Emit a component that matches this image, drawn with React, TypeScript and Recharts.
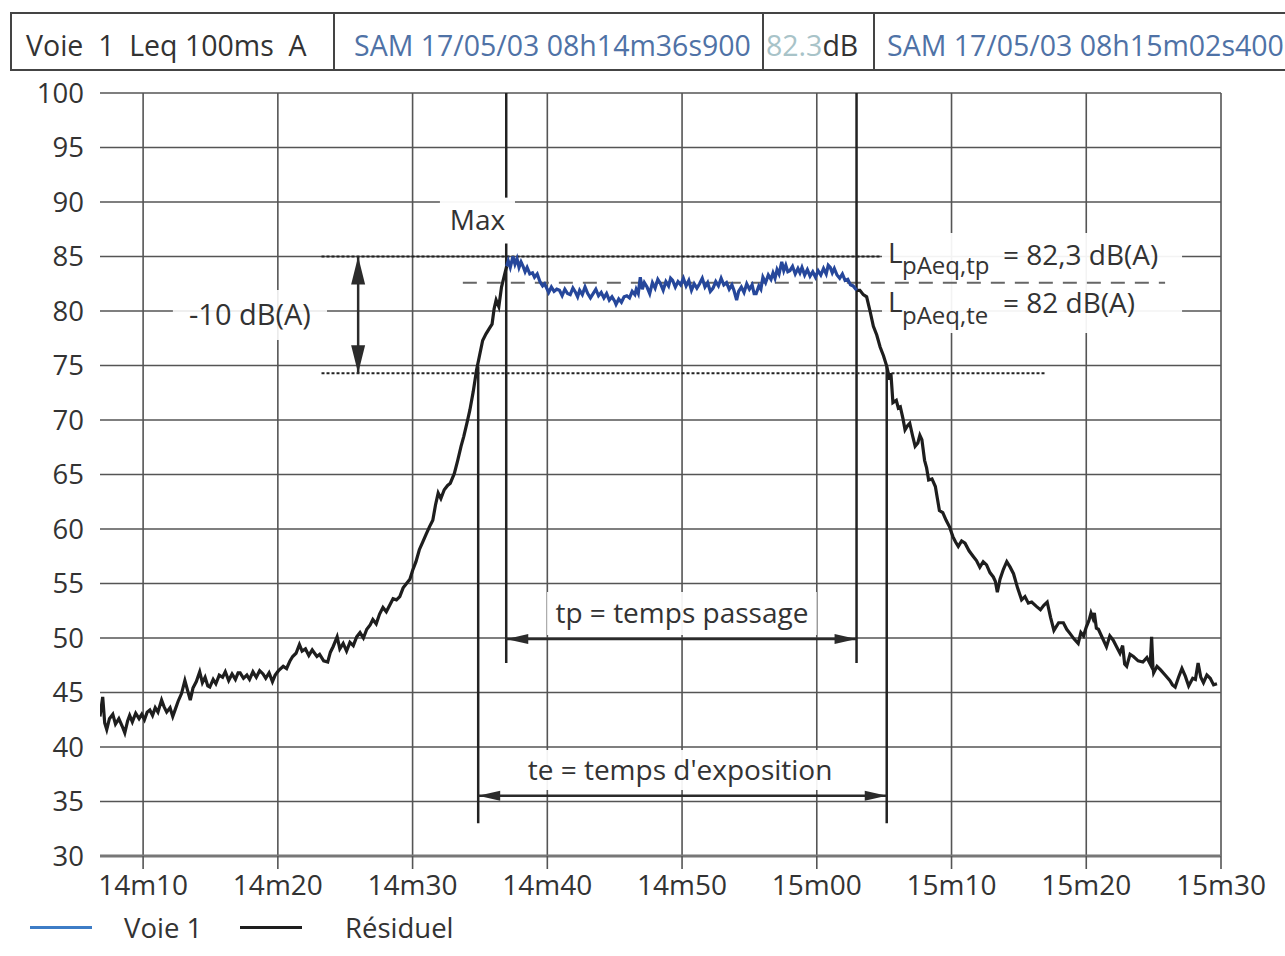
import React from 'react';
import { LineChart, Line, XAxis, YAxis, CartesianGrid, ReferenceLine, ReferenceArea } from 'recharts';

const FONT = '"Open Sans", "Noto Sans", "DejaVu Sans", sans-serif';

// time axis = seconds after 08h14m00
const xTicks = [10, 20, 30, 40, 50, 60, 70, 80, 90];
const xTickLabels = ['14m10', '14m20', '14m30', '14m40', '14m50', '15m00', '15m10', '15m20', '15m30'];
const yTicks = [30, 35, 40, 45, 50, 55, 60, 65, 70, 75, 80, 85, 90, 95, 100];

// Résiduel, montée (avant le passage)
const monteeTemps = [
  6.8, 7.0, 7.15, 7.3, 7.5, 7.75, 7.95, 8.2, 8.45, 8.64, 8.85, 9.0, 9.2, 9.45, 9.7, 9.9,
  10.1, 10.3, 10.5, 10.7, 10.9, 11.1, 11.37, 11.55, 11.75, 12.0, 12.2, 12.4, 12.6, 12.85,
  13.1, 13.3, 13.5, 13.7, 13.95, 14.2, 14.4, 14.6, 14.8, 14.95, 15.2, 15.4, 15.65, 15.9,
  16.1, 16.35, 16.6, 16.85, 17.05, 17.2, 17.45, 17.7, 17.9, 18.15, 18.4, 18.65, 18.9,
  19.1, 19.35, 19.6, 19.8, 20.05, 20.4, 20.65, 20.9, 21.1, 21.35, 21.6, 21.8, 22.05, 22.3,
  22.55, 22.9, 23.1, 23.4, 23.7, 23.9, 24.1, 24.4, 24.6, 24.85, 25.1, 25.35, 25.6, 25.85,
  26.1, 26.35, 26.6, 26.85, 27.05, 27.3, 27.55, 27.8, 28.05, 28.3, 28.55, 28.8, 29.05,
  29.3, 29.55, 29.8, 30.0, 30.25, 30.5, 30.75, 31.0, 31.25, 31.5, 31.7, 31.9, 32.1, 32.35,
  32.6, 32.8, 33.1, 33.35, 33.6, 33.8, 34.05, 34.25, 34.5, 34.75, 34.95, 35.2, 35.45, 35.7,
  35.9, 36.05, 36.2, 36.4, 36.6, 36.8, 36.98,
];
const monteeNiveaux = [
  42.8, 44.6, 42.2, 41.6, 42.6, 43.0, 42.1, 42.6, 41.9, 41.3, 42.4, 42.9, 42.3, 43.1, 42.6, 43.0,
  42.5, 43.2, 43.4, 42.9, 43.6, 43.2, 44.3, 43.7, 43.2, 43.6, 42.8, 43.5, 44.2, 44.9,
  46.1, 45.2, 44.3, 45.4, 46.0, 46.9, 45.9, 46.4, 45.6, 45.5, 46.2, 45.8, 46.6, 46.4,
  46.9, 46.1, 46.7, 46.2, 46.8, 46.8, 46.3, 46.6, 46.2, 46.9, 46.4, 47.0, 46.7,
  46.3, 46.8, 46.0, 46.6, 47.0, 47.4, 47.2, 47.9, 48.3, 48.6, 49.4, 48.8, 49.0, 48.4,
  48.9, 48.3, 48.5, 47.9, 47.8, 48.7, 49.2, 50.1, 49.0, 49.5, 48.8, 49.6, 49.3, 50.1,
  50.5, 50.0, 50.8, 51.2, 51.7, 51.3, 52.2, 52.8, 52.4, 53.0, 53.6, 53.5, 53.8,
  54.6, 55.0, 55.4, 56.2, 57.0, 58.1, 58.8, 59.5, 60.2, 60.8, 62.2, 63.3, 62.8, 63.6,
  64.0, 64.2, 65.1, 66.3, 67.6, 68.5, 69.8, 70.9, 72.6, 74.6, 75.8, 77.3, 77.9, 78.4,
  78.8, 80.2, 81.0, 80.4, 82.2, 83.2, 84.1,
];

// Voie 1 (passage)
const voieTemps = [
  36.98, 37.1, 37.25, 37.45, 37.6, 37.75, 37.9, 38.05, 38.2, 38.35, 38.5, 38.7, 38.9, 39.05,
  39.25, 39.45, 39.65, 39.8, 39.95, 40.1, 40.3, 40.5, 40.7, 40.9, 41.1, 41.3, 41.5, 41.7,
  41.9, 42.1, 42.25, 42.4, 42.6, 42.8, 43.0, 43.2, 43.4, 43.6, 43.8, 44.0, 44.2, 44.4,
  44.6, 44.8, 45.0, 45.1, 45.3, 45.5, 45.7, 45.9, 46.1, 46.3, 46.5, 46.6, 46.75, 46.9,
  47.05, 47.2, 47.4, 47.6, 47.8, 48.0, 48.2, 48.4, 48.6, 48.8, 49.0, 49.15, 49.3, 49.5,
  49.7, 49.9, 50.1, 50.3, 50.5, 50.7, 50.9, 51.1, 51.3, 51.5, 51.7, 51.9, 52.1, 52.3,
  52.5, 52.7, 52.9, 53.1, 53.3, 53.5, 53.7, 53.85, 54.05, 54.2, 54.4, 54.6, 54.8, 55.0,
  55.2, 55.35, 55.5, 55.7, 55.85, 56.0, 56.2, 56.4, 56.6, 56.75, 56.9, 57.05, 57.2, 57.4,
  57.55, 57.7, 57.85, 58.0, 58.2, 58.4, 58.6, 58.75, 58.9, 59.1, 59.3, 59.5, 59.7, 59.9,
  60.1, 60.3, 60.5, 60.7, 60.85, 61.0, 61.15, 61.3, 61.5, 61.7, 61.9, 62.1, 62.3, 62.5,
  62.7, 62.96,
];
const voieNiveaux = [
  84.1, 84.6, 84.0, 85.0, 84.3, 84.8, 84.0, 84.5, 84.1, 83.6, 84.0, 83.4, 83.5, 83.1,
  83.4, 82.7, 82.3, 82.5, 82.1, 81.7, 82.2, 81.8, 82.0, 81.9, 81.4, 82.0, 81.6, 81.5,
  82.1, 81.7, 81.3, 81.9, 81.5, 82.2, 81.6, 81.2, 81.6, 82.0, 81.4, 81.7, 81.2, 81.6,
  81.0, 81.3, 80.9, 80.6, 81.1, 80.8, 81.3, 81.4, 81.2, 81.8, 81.5, 82.0, 81.6, 83.1,
  82.0, 82.6, 82.2, 81.6, 82.6, 82.1, 82.9, 82.5, 81.9, 82.7, 82.3, 83.0, 82.8, 82.2,
  82.7, 82.4, 83.0, 82.3, 82.8, 81.9, 82.5, 82.1, 82.5, 83.0, 82.2, 82.6, 81.8, 82.1,
  82.7, 82.3, 83.0, 82.4, 82.6, 82.0, 82.4, 81.9, 81.0, 81.8, 82.2, 81.7, 82.5, 82.0,
  82.4, 81.6, 81.6, 82.3, 82.0, 83.1, 82.6, 83.3, 82.9, 83.5, 83.0, 83.8, 83.4, 84.5,
  83.7, 84.2, 83.6, 83.7, 84.1, 83.4, 83.9, 83.5, 84.0, 83.3, 83.8, 83.2, 83.6, 83.1,
  83.7, 83.3, 83.9, 83.4, 84.2, 84.0, 83.5, 83.9, 83.3, 83.0, 83.4, 82.8, 82.9, 82.4,
  82.3, 81.9,
];

// Résiduel, descente (après le passage)
const descenteTemps = [
  62.96, 63.2, 63.45, 63.7, 63.95, 64.2, 64.45, 64.7, 64.95, 65.2, 65.4, 65.5, 65.65, 65.9,
  66.05, 66.2, 66.4, 66.55, 66.75, 66.9, 67.1, 67.3, 67.5, 67.65, 67.8, 68.0, 68.15, 68.3,
  68.55, 68.8, 68.95, 69.1, 69.35, 69.6, 69.85, 70.1, 70.3, 70.5, 70.75, 71.0, 71.3, 71.6,
  71.85, 72.1, 72.35, 72.6, 72.85, 73.1, 73.25, 73.4, 73.6, 73.85, 74.1, 74.35, 74.6, 74.9,
  75.2, 75.45, 75.7, 75.95, 76.3, 76.6, 76.85, 77.1, 77.35, 77.6, 77.95, 78.3, 78.55, 78.8,
  79.1, 79.4, 79.6, 79.8, 80.0, 80.2, 80.35, 80.5, 80.6, 80.75, 80.9, 81.2, 81.5, 81.75,
  82.0, 82.25, 82.5, 82.7, 82.85, 83.0, 83.25, 83.5, 83.85, 84.2, 84.5, 84.75, 84.85, 84.95,
  85.0, 85.25, 85.5, 85.85, 86.2, 86.4, 86.6, 86.85, 87.1, 87.35, 87.6, 87.9, 88.1, 88.3,
  88.5, 88.7, 88.95, 89.2, 89.45, 89.7,
];
const descenteNiveaux = [
  81.9, 81.9, 81.5, 81.3, 80.0, 78.6, 77.8, 76.7, 75.9, 74.9, 73.7, 74.3, 71.6, 71.8,
  71.1, 71.2, 70.1, 69.1, 69.5, 69.7, 68.6, 67.6, 67.9, 68.6, 68.2, 66.3, 65.6, 64.5,
  64.6, 63.9, 62.8, 61.7, 61.5, 60.8, 60.2, 59.3, 58.8, 58.4, 58.9, 58.7, 58.0, 57.5,
  57.1, 56.5, 57.0, 56.7, 56.0, 55.6, 55.2, 54.2, 55.4, 56.3, 57.0, 56.5, 55.9, 54.6,
  53.5, 53.8, 53.2, 53.3, 52.9, 52.6, 53.0, 53.3, 51.9, 50.7, 51.4, 51.4, 50.8, 50.4,
  49.9, 49.5, 50.5, 50.2, 51.0, 51.6, 52.3, 51.8, 52.3, 50.9, 50.8, 50.0, 49.2, 50.2,
  49.8, 49.2, 48.6, 49.3, 47.6, 47.4, 48.5, 48.3, 47.9, 47.8, 48.2, 47.6, 50.1, 47.3,
  46.8, 47.4, 47.1, 46.6, 46.1, 45.7, 45.5, 46.4, 47.2, 46.5, 45.6, 46.3, 46.2, 47.7,
  46.4, 45.9, 46.6, 46.3, 45.7, 45.8,
];

const toPoints = (temps: number[], niveaux: number[]) =>
  temps.map((t, i) => ({ t, niveau: niveaux[i] }));

const montee = toPoints(monteeTemps, monteeNiveaux);
const passage = toPoints(voieTemps, voieNiveaux);
const descente = toPoints(descenteTemps, descenteNiveaux);

const DoubleArrow = (p: any) => {
  const { x1, y1, x2, y2, len, half } = p;
  const dx = x2 - x1;
  const dy = y2 - y1;
  const l = Math.hypot(dx, dy) || 1;
  const ux = dx / l;
  const uy = dy / l;
  const nx = -uy * half;
  const ny = ux * half;
  const head1 = `${x1},${y1} ${x1 + ux * len + nx},${y1 + uy * len + ny} ${x1 + ux * len - nx},${y1 + uy * len - ny}`;
  const head2 = `${x2},${y2} ${x2 - ux * len + nx},${y2 - uy * len + ny} ${x2 - ux * len - nx},${y2 - uy * len - ny}`;
  return (
    <g>
      <line x1={x1} y1={y1} x2={x2} y2={y2} stroke="#2b2b2b" strokeWidth={2.5} />
      <polygon points={head1} fill="#2b2b2b" />
      <polygon points={head2} fill="#2b2b2b" />
    </g>
  );
};

const LpLabel = (props: any) => {
  const { x, y } = props.viewBox;
  return (
    <g fill="#333" fontFamily={FONT}>
      <text x={x + 6} y={y + 30} fontSize={28}>L</text>
      <text x={x + 20} y={y + 41} fontSize={24}>pAeq,tp</text>
      <text x={x + 121} y={y + 32} fontSize={28}>= 82,3 dB(A)</text>
      <text x={x + 6} y={y + 79} fontSize={28}>L</text>
      <text x={x + 20} y={y + 91} fontSize={24}>pAeq,te</text>
      <text x={x + 121} y={y + 80} fontSize={28}>= 82 dB(A)</text>
    </g>
  );
};

const boxLabel = (value: string, fontSize = 28) => ({ value, position: 'center' as const, fill: '#333', fontSize });

const headerCell = (left: number, width: number, children: React.ReactNode) => (
  <div
    style={{
      position: 'absolute',
      left,
      top: 14,
      width,
      height: 56,
      lineHeight: '62px',
      paddingLeft: 14,
      boxSizing: 'border-box',
      whiteSpace: 'pre',
      overflow: 'hidden',
      fontSize: 28.5,
    }}
  >
    {children}
  </div>
);

const App: React.FC = () => {
  return (
    <div style={{ position: 'absolute', left: 0, top: 0, width: 1285, height: 956, background: '#fff', fontFamily: FONT, color: '#333', overflow: 'hidden' }}>
      {/* en-tête */}
      <div style={{ position: 'absolute', left: 10, top: 12, width: 1285, height: 0, borderTop: '2px solid #444' }} />
      <div style={{ position: 'absolute', left: 10, top: 69, width: 1285, height: 0, borderTop: '2px solid #444' }} />
      {[10, 333, 762, 873].map((x) => (
        <div key={x} style={{ position: 'absolute', left: x, top: 12, width: 0, height: 58, borderLeft: '2px solid #444' }} />
      ))}
      {headerCell(12, 321, <span>Voie  1  Leq 100ms  A</span>)}
      {headerCell(336, 426, <span style={{ color: '#4f72a6', marginLeft: 4 }}>SAM 17/05/03 08h14m36s900</span>)}
      {headerCell(762, 111, <span style={{ marginLeft: -10 }}><span style={{ color: '#a8c3c8' }}>82.3</span>dB</span>)}
      {headerCell(875, 420, <span style={{ marginLeft: -2 }}><span style={{ color: '#4f72a6' }}>SAM 17/05/03 08h15m02s400</span></span>)}

      <div style={{ position: 'absolute', left: 0, top: 0 }}>
        <LineChart width={1285} height={956} margin={{ top: 93, right: 64, bottom: 40, left: 40 }}>
          <CartesianGrid stroke="#555" strokeWidth={1.6} horizontalValues={yTicks} verticalValues={xTicks} />
          <XAxis
            type="number"
            dataKey="t"
            domain={[6.8, 90]}
            allowDataOverflow
            ticks={xTicks}
            tickFormatter={(v) => xTickLabels[xTicks.indexOf(v)]}
            height={60}
            tickSize={13}
            tickMargin={6}
            tickLine={{ stroke: '#555', strokeWidth: 1.6 }}
            axisLine={{ stroke: '#777', strokeWidth: 3 }}
            tick={{ fill: '#333', fontSize: 28 }}
          />
          <YAxis
            type="number"
            domain={[30, 100]}
            ticks={yTicks}
            width={60}
            axisLine={false}
            tickLine={false}
            tickMargin={10}
            tick={{ fill: '#333', fontSize: 27.5 }}
          />

          {/* cadres blancs des annotations */}
          <ReferenceArea x1={12.21} x2={23.65} y1={77.34} y2={81.93} fill="#fff" fillOpacity={0.88} stroke="none" label={boxLabel('-10 dB(A)', 29)} />
          <ReferenceArea x1={32.03} x2={37.6} y1={86.2} y2={90.4} fill="#fff" fillOpacity={0.95} stroke="none" label={boxLabel('Max')} />
          <ReferenceArea x1={64.84} x2={87.11} y1={77.98} y2={87.16} fill="#fff" fillOpacity={0.93} stroke="none" label={LpLabel} />
          <ReferenceArea x1={39.98} x2={60.0} y1={50.28} y2={54.22} fill="#fff" fillOpacity={0.93} stroke="none" label={boxLabel('tp = temps passage')} />
          <ReferenceArea x1={38.2} x2={61.5} y1={36.06} y2={39.72} fill="#fff" fillOpacity={0.93} stroke="none" label={boxLabel("te = temps d'exposition")} />

          {/* niveaux Max et -10 dB */}
          <ReferenceLine segment={[{ x: 23.24, y: 85 }, { x: 64.69, y: 85 }]} stroke="#222" strokeWidth={2} strokeDasharray="3 2" />
          <ReferenceLine segment={[{ x: 23.24, y: 74.3 }, { x: 76.94, y: 74.3 }]} stroke="#222" strokeWidth={2} strokeDasharray="3 2" />
          <ReferenceLine segment={[{ x: 33.73, y: 82.6 }, { x: 85.85, y: 82.6 }]} stroke="#666" strokeWidth={2} strokeDasharray="14 10" />

          {/* bornes tp et te */}
          <ReferenceLine segment={[{ x: 34.87, y: 74.9 }, { x: 34.87, y: 33.0 }]} stroke="#222" strokeWidth={2.5} />
          <ReferenceLine segment={[{ x: 65.19, y: 74.9 }, { x: 65.19, y: 33.0 }]} stroke="#222" strokeWidth={2.5} />
          <ReferenceLine segment={[{ x: 36.95, y: 100 }, { x: 36.95, y: 90.4 }]} stroke="#222" strokeWidth={2.5} />
          <ReferenceLine segment={[{ x: 36.95, y: 86.2 }, { x: 36.95, y: 47.7 }]} stroke="#222" strokeWidth={2.5} />
          <ReferenceLine segment={[{ x: 62.95, y: 100 }, { x: 62.95, y: 47.7 }]} stroke="#222" strokeWidth={2.5} />

          {/* flèches */}
          <ReferenceLine segment={[{ x: 25.96, y: 85 }, { x: 25.96, y: 74.3 }]} shape={(p: any) => <DoubleArrow {...p} len={28} half={7} />} />
          <ReferenceLine segment={[{ x: 36.95, y: 49.9 }, { x: 62.95, y: 49.9 }]} shape={(p: any) => <DoubleArrow {...p} len={22} half={5} />} />
          <ReferenceLine segment={[{ x: 34.87, y: 35.53 }, { x: 65.19, y: 35.53 }]} shape={(p: any) => <DoubleArrow {...p} len={22} half={5} />} />

          <Line data={montee} dataKey="niveau" type="linear" stroke="#1e1e1e" strokeWidth={3.2} dot={false} isAnimationActive={false} />
          <Line data={descente} dataKey="niveau" type="linear" stroke="#1e1e1e" strokeWidth={3.2} dot={false} isAnimationActive={false} />
          <Line data={passage} dataKey="niveau" type="linear" stroke="#26479b" strokeWidth={3.2} dot={false} isAnimationActive={false} />
        </LineChart>
      </div>

      {/* légende */}
      <div style={{ position: 'absolute', left: 30, top: 926, width: 62, height: 0, borderTop: '3px solid #3d7cc6' }} />
      <div style={{ position: 'absolute', left: 124, top: 910, fontSize: 27.5, lineHeight: '36px' }}>Voie 1</div>
      <div style={{ position: 'absolute', left: 240, top: 926, width: 62, height: 0, borderTop: '3px solid #1e1e1e' }} />
      <div style={{ position: 'absolute', left: 345, top: 910, fontSize: 27.5, lineHeight: '36px' }}>Résiduel</div>
    </div>
  );
};

export default App;
